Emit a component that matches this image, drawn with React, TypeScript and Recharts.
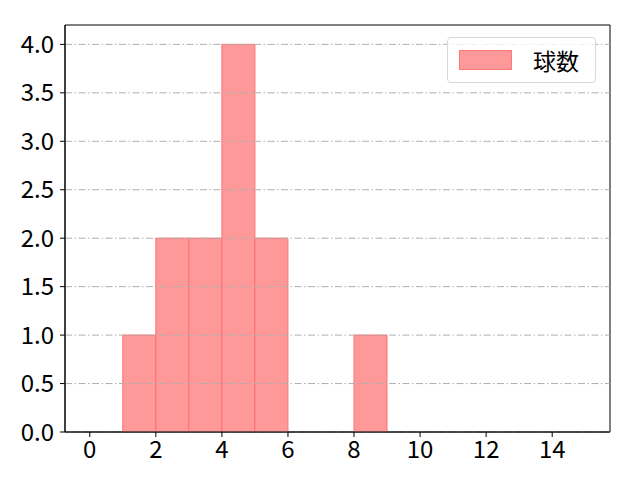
import React from "react";
import {
  ComposedChart,
  Bar,
  XAxis,
  YAxis,
  ReferenceLine,
  ReferenceArea,
} from "recharts";

// histogram bins (left edge), counts per bin
const binStarts = [0, 1, 2, 3, 4, 5, 6, 7, 8, 9, 10, 11, 12, 13, 14];
const counts = [0, 1, 2, 2, 4, 2, 0, 0, 1, 0, 0, 0, 0, 0, 0];
const xTicks = [0, 2, 4, 6, 8, 10, 12, 14];
const yTicks = [0, 0.5, 1, 1.5, 2, 2.5, 3, 3.5, 4];
const xDomain = [-0.75, 15.75];
const yDomain = [0, 4.2];
const seriesName = "球数";

const data = binStarts.map((b, i) => ({ x: b + 0.5, count: counts[i] }));

const font = "'Noto Sans CJK JP', 'Noto Sans', sans-serif";
const tickFont = 24;

const App = () => {
  return (
    <div
      style={{
        position: "absolute",
        left: 0,
        top: 0,
        width: 640,
        height: 480,
        background: "#fff",
        fontFamily: font,
      }}
    >
      <ComposedChart
        width={640}
        height={480}
        data={data}
        margin={{ top: 25, right: 30, left: 0, bottom: 0 }}
        barCategoryGap={0}
        barGap={0}
        style={{ fontFamily: font }}
      >
        <XAxis
          dataKey="x"
          type="number"
          domain={xDomain}
          ticks={xTicks}
          allowDataOverflow
          height={48}
          tickSize={5}
          tickMargin={4}
          stroke="#000"
          fontSize={tickFont}
          tick={{ fill: "#000", fontSize: tickFont, fontFamily: font }}
        />
        <YAxis
          type="number"
          domain={yDomain}
          ticks={yTicks}
          allowDataOverflow
          width={65}
          tickSize={5}
          tickMargin={6}
          stroke="#000"
          fontSize={tickFont}
          tickFormatter={(v) => v.toFixed(1)}
          tick={{ fill: "#000", fontSize: tickFont, fontFamily: font }}
        />
        <Bar
          dataKey="count"
          name={seriesName}
          fill="#ff9999"
          stroke="#ff6f6f"
          strokeWidth={1}
          isAnimationActive={false}
        />
        {yTicks.map((t) => (
          <ReferenceLine
            key={t}
            y={t}
            stroke="#b0b0b0"
            strokeWidth={1}
            strokeDasharray="7 2.5 1.5 2.5"
          />
        ))}
        <ReferenceArea
          x1={xDomain[0]}
          x2={xDomain[1]}
          y1={yDomain[0]}
          y2={yDomain[1]}
          fill="none"
          fillOpacity={0}
          stroke="#000"
          strokeWidth={1}
        />
      </ComposedChart>
      <div
        style={{
          position: "absolute",
          left: 447,
          top: 37,
          width: 149,
          height: 46,
          boxSizing: "border-box",
          border: "1px solid #d9d9d9",
          borderRadius: 4,
          background: "rgba(255,255,255,0.8)",
          display: "flex",
          alignItems: "center",
          fontFamily: font,
          fontSize: 23,
        }}
      >
        <div
          style={{
            marginLeft: 11,
            width: 53,
            height: 20,
            boxSizing: "border-box",
            background: "#ff9999",
            border: "1px solid #ff7777",
          }}
        />
        <span style={{ marginLeft: 21, color: "#000" }}>{seriesName}</span>
      </div>
    </div>
  );
};

export default App;
